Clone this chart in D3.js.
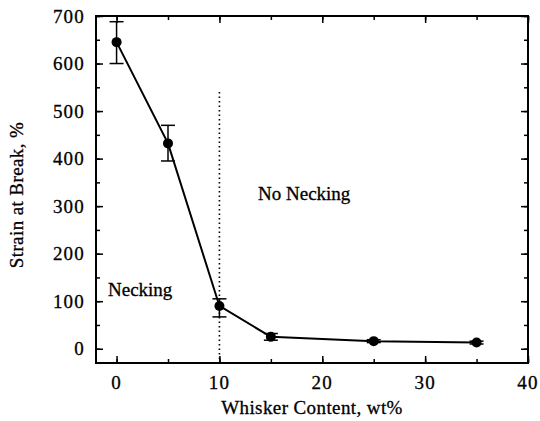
<!DOCTYPE html>
<html>
<head>
<meta charset="utf-8">
<script src="https://cdn.jsdelivr.net/npm/d3@7"></script>
<style>
  html, body { margin: 0; padding: 0; background: #fff; }
</style>
</head>
<body>
<svg id="chart" width="540" height="421"></svg>
<script>
// Strain at break vs. whisker content
const whisker = [0, 5, 10, 15, 25, 35];
const strain  = [645, 432, 90, 25, 16, 13];
const errLow  = [600, 395, 67, 18, 13, 10];
const errHigh = [688, 470, 105, 32, 19, 16];
const xTicks = [0, 10, 20, 30, 40];
const yTicks = [0, 100, 200, 300, 400, 500, 600, 700];
const neckingBoundary = 10;
const boundaryTop = 540;

const svg = d3.select("#chart");
const serif = "'Liberation Serif', 'DejaVu Serif', serif";
const plotLeft = 96, plotRight = 528, plotTop = 16, plotBottom = 363;

const x = d3.scaleLinear().domain([-2, 40]).range([plotLeft, plotRight]);
const y = d3.scaleLinear().domain([-30, 700]).range([plotBottom, plotTop]);

const xMinor = d3.range(0, 41, 5);
const yMinor = d3.range(0, 701, 50);

// inward ticks on all four sides
function tickAxis(axisFn, scale, pos, major, minor) {
  const gMinor = svg.append("g").attr("transform", pos)
    .call(axisFn(scale).tickValues(minor).tickSize(-4).tickFormat(""));
  const gMajor = svg.append("g").attr("transform", pos)
    .call(axisFn(scale).tickValues(major).tickSize(-7).tickFormat(""));
  [gMinor, gMajor].forEach(g => {
    g.select(".domain").remove();
    g.selectAll("line").attr("stroke", "#000").attr("stroke-width", 1.5);
  });
}
tickAxis(d3.axisBottom, x, `translate(0,${plotBottom})`, xTicks, xMinor);
tickAxis(d3.axisTop, x, `translate(0,${plotTop})`, xTicks, xMinor);
tickAxis(d3.axisLeft, y, `translate(${plotLeft},0)`, yTicks, yMinor);
tickAxis(d3.axisRight, y, `translate(${plotRight},0)`, yTicks, yMinor);

// frame
svg.append("rect")
  .attr("x", plotLeft).attr("y", plotTop)
  .attr("width", plotRight - plotLeft).attr("height", plotBottom - plotTop)
  .attr("fill", "none").attr("stroke", "#000").attr("stroke-width", 2);

function label(sel) {
  return sel.attr("font-family", serif).attr("fill", "#000").attr("font-size", 19)
    .attr("stroke", "#000").attr("stroke-width", 0.3);
}

// tick labels
svg.append("g").selectAll("text").data(xTicks).join("text")
  .call(label)
  .attr("x", d => x(d)).attr("y", 389)
  .attr("text-anchor", "middle").attr("letter-spacing", 1.2)
  .text(d => d);
svg.append("g").selectAll("text").data(yTicks).join("text")
  .call(label)
  .attr("x", 85).attr("y", d => y(d) + 6.5)
  .attr("text-anchor", "end").attr("letter-spacing", 1.2)
  .text(d => d);

// axis titles
svg.append("text").call(label)
  .attr("x", 312).attr("y", 414)
  .attr("text-anchor", "middle").attr("letter-spacing", 0.4)
  .text("Whisker Content, wt%");
svg.append("text").call(label)
  .attr("transform", "translate(23,195) rotate(-90)")
  .attr("text-anchor", "middle").attr("letter-spacing", 0.4)
  .text("Strain at Break, %");

// necking boundary
svg.append("line")
  .attr("x1", x(neckingBoundary)).attr("x2", x(neckingBoundary))
  .attr("y1", y(boundaryTop)).attr("y2", plotBottom)
  .attr("stroke", "#000").attr("stroke-width", 1.6)
  .attr("stroke-dasharray", "1.5,3");

svg.append("text").call(label).attr("x", 108).attr("y", 296).text("Necking");
svg.append("text").call(label).attr("x", 258).attr("y", 200).text("No Necking");

const data = whisker.map((w, i) => ({ w, s: strain[i], lo: errLow[i], hi: errHigh[i] }));

// connecting line
svg.append("path").datum(data)
  .attr("fill", "none").attr("stroke", "#000").attr("stroke-width", 2)
  .attr("d", d3.line().x(d => x(d.w)).y(d => y(d.s)));

// error bars
const eb = svg.append("g").selectAll("g").data(data).join("g");
eb.append("line")
  .attr("x1", d => x(d.w)).attr("x2", d => x(d.w))
  .attr("y1", d => y(d.lo)).attr("y2", d => y(d.hi))
  .attr("stroke", "#000").attr("stroke-width", 1.5);
eb.append("line")
  .attr("x1", d => x(d.w) - 7).attr("x2", d => x(d.w) + 7)
  .attr("y1", d => y(d.hi)).attr("y2", d => y(d.hi))
  .attr("stroke", "#000").attr("stroke-width", 1.5);
eb.append("line")
  .attr("x1", d => x(d.w) - 7).attr("x2", d => x(d.w) + 7)
  .attr("y1", d => y(d.lo)).attr("y2", d => y(d.lo))
  .attr("stroke", "#000").attr("stroke-width", 1.5);

// markers
svg.append("g").selectAll("circle").data(data).join("circle")
  .attr("cx", d => x(d.w)).attr("cy", d => y(d.s)).attr("r", 5)
  .attr("fill", "#000");
</script>
</body>
</html>
